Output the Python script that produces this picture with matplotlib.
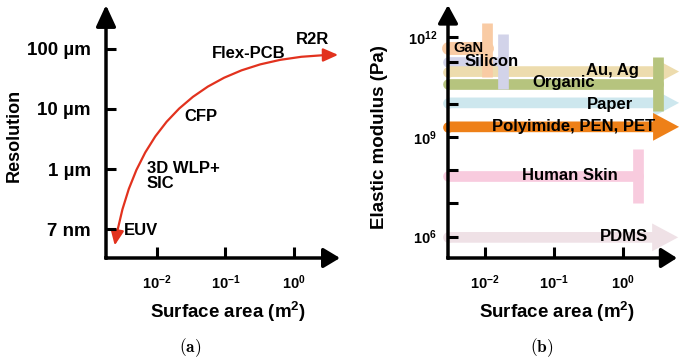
import numpy as np
import matplotlib
matplotlib.use("Agg")
import matplotlib.pyplot as plt
from matplotlib.patches import FancyArrowPatch
from matplotlib.ticker import NullLocator

plt.rcParams['font.family'] = ['Liberation Sans', 'DejaVu Sans']
plt.rcParams['font.weight'] = 'bold'
plt.rcParams['mathtext.fontset'] = 'custom'
plt.rcParams['mathtext.rm'] = 'Liberation Sans:bold'
plt.rcParams['mathtext.it'] = 'Liberation Sans:bold'
plt.rcParams['mathtext.bf'] = 'Liberation Sans:bold'
plt.rcParams['mathtext.default'] = 'rm'

# ---------------- data: panel (a) ----------------
res_levels = [0, 1, 2, 3]
res_labels = ['7 nm', '1 µm', '10 µm', '100 µm']
area_ticks = [1e-2, 1e-1, 1e0]
area_ticklabels = [r'$10^{-2}$', r'$10^{-1}$', r'$10^{0}$']
curve_start = (0.00244, -0.27)   # (area m^2, resolution level) EUV end
curve_end = (4.39, 2.90)         # R2R end
tech_names = ['EUV', '3D WLP+\nSIC', 'CFP', 'Flex-PCB', 'R2R']
tech_area = [0.00594, 0.00714, 0.0440, 0.217, 1.86]
tech_level = [-0.02, 0.88, 1.87, 2.93, 3.15]

# ---------------- data: panel (b) ----------------
materials = ['GaN', 'Silicon', 'Au, Ag', 'Organic', 'Paper',
             'Polyimide, PEN, PET', 'Human Skin', 'PDMS']
modulus_exp = [11.67, 11.26, 10.96, 10.60, 10.02, 9.30, 7.81, 5.98]   # log10(Pa)
max_area = [0.0107, 0.018, 6.5, 3.2, 6.5, 6.5, 1.65, 6.3]             # m^2
end_type = ['bar', 'bar', 'arrow', 'bar', 'arrow', 'arrow', 'bar', 'arrow']
bar_low_exp = [10.80, 10.44, None, 9.78, None, None, 7.00, None]
bar_high_exp = [12.42, 12.09, None, 11.40, None, None, 8.64, None]
mat_colors = ['#F9CBA4', '#D2D3E9', '#EDDCAE', '#B6C47E', '#CDE7EE',
              '#EE8018', '#F8CBDE', '#EFE1E6']
label_area = [0.00568, 0.0126, 0.705, 0.137, 0.649, 0.192, 0.168, 1.016]
label_exp = [11.67, 11.25, 10.98, 10.63, 9.96, 9.30, 7.83, 6.00]
label_size = [10.5, 12, 12, 12, 12, 12, 12, 12]
mod_ticks_exp = [12, 11.25, 10, 9, 8, 7, 6]
mod_ticklabels = [r'$10^{12}$', '', '', r'$10^{9}$', '', '', r'$10^{6}$']

W, H = 679, 363
fig = plt.figure(figsize=(W / 100, H / 100), dpi=100)


def axes_px(l, r, t, b):
    return fig.add_axes([l / W, 1 - b / H, (r - l) / W, (b - t) / H])


def style_axes(ax, xpad, ypad):
    for s in ax.spines.values():
        s.set_visible(False)
    ax.xaxis.set_minor_locator(NullLocator())
    ax.yaxis.set_minor_locator(NullLocator())
    ax.tick_params(axis='x', which='both', length=0, pad=xpad)
    ax.tick_params(axis='y', which='both', length=0, pad=ypad)


def draw_ticks(ax, xticks, yticks, xfac, ystep, ylog):
    """Inward tick marks drawn in data coordinates from the axis edges."""
    xl = ax.get_xlim()[0]
    yl = ax.get_ylim()[0]
    ytop = yl * ystep if ylog else yl + ystep
    for v in xticks:
        ax.plot([v, v], [yl, ytop], color='black', lw=2.2, solid_capstyle='butt',
                clip_on=False, zorder=9)
    for v in yticks:
        ax.plot([xl, xl * xfac], [v, v], color='black', lw=2.2, solid_capstyle='butt',
                clip_on=False, zorder=9)


def draw_axis_arrows(ax, yhead=11, xhead=9.5):
    for (p0, p1, hl) in [((0, 0), (0, 1), yhead), ((0, 0), (1, 0), xhead)]:
        a = FancyArrowPatch(p0, p1, transform=ax.transAxes,
                            arrowstyle=f'-|>,head_length={hl},head_width=6.0',
                            mutation_scale=1, lw=2.5, color='black',
                            shrinkA=0, shrinkB=0, clip_on=False, zorder=10)
        ax.add_patch(a)
    corner = FancyArrowPatch((0, 0), (0, 0.001), transform=ax.transAxes,
                             arrowstyle='-', lw=2.5, color='black', capstyle='projecting',
                             shrinkA=0, shrinkB=0, clip_on=False, zorder=10)
    ax.add_patch(corner)


# ================= panel (a) =================
axa = axes_px(106, 340, 5, 258)
axa.set_xscale('log')
axa.set_xlim(10 ** -2.74, 10 ** 0.67)
axa.set_ylim(-0.48, 3.73)
axa.set_xticks(area_ticks)
axa.set_xticklabels(area_ticklabels, fontsize=10.5)
axa.set_yticks(res_levels)
axa.set_yticklabels(res_labels, fontsize=13.5)
style_axes(axa, 11, 11)
draw_ticks(axa, area_ticks, res_levels, 10 ** 0.15, 0.18, False)
draw_axis_arrows(axa, yhead=13, xhead=10)

curve = FancyArrowPatch(curve_start, curve_end, connectionstyle='arc3,rad=-0.42',
                        arrowstyle='<|-|>,head_length=9,head_width=4',
                        mutation_scale=1, lw=1.6, color='#E2321E',
                        shrinkA=0, shrinkB=0, clip_on=False, zorder=5)
axa.add_patch(curve)
for name, xa, yl in zip(tech_names, tech_area, tech_level):
    ha = 'left' if '\n' in name else 'center'
    axa.text(xa, yl, name, fontsize=12, fontweight='bold', ha=ha, va='center',
             linespacing=1.0, zorder=6)

fig.text(14 / W, 1 - 135 / H, 'Resolution', rotation=90, fontsize=13,
         fontweight='bold', ha='center', va='center')
fig.text(228 / W, 1 - 312 / H, r'Surface area (m$^{2}$)', fontsize=13.5,
         fontweight='bold', ha='center', va='center')
fig.text(190 / W, 1 - 348 / H, r'$\mathbf{(a)}$', fontsize=12.5, ha='center',
         va='center', math_fontfamily='cm')

# ================= panel (b) =================
axb = axes_px(448, 677, 5, 258)
axb.set_xscale('log')
axb.set_yscale('log')
axb.set_xlim(10 ** -2.536, 10 ** 0.783)
axb.set_ylim(10 ** 5.36, 10 ** 12.96)
mod_ticks = [10 ** e for e in mod_ticks_exp]
axb.set_xticks(area_ticks)
axb.set_xticklabels(area_ticklabels, fontsize=10.5)
axb.set_yticks(mod_ticks)
axb.set_yticklabels(mod_ticklabels, fontsize=10.5)
style_axes(axb, 11, 8)
draw_axis_arrows(axb, yhead=11, xhead=9.5)

x0 = 10 ** -2.536
band_w = 7.7
# horizontal bands
for name, ye, xm, et, c in zip(materials, modulus_exp, max_area, end_type, mat_colors):
    y = 10 ** ye
    if et == 'arrow':
        arr = FancyArrowPatch((x0, y), (xm, y),
                              arrowstyle=f'simple,head_length=18.7,head_width=20,tail_width={band_w}',
                              mutation_scale=1, lw=0, color=c, shrinkA=0, shrinkB=0,
                              clip_on=False, zorder=2)
        axb.add_patch(arr)
        axb.plot([x0], [y], 'o', ms=band_w, color=c, mew=0, clip_on=False, zorder=2)
    else:
        lw_h = 9.3 if name == 'GaN' else band_w
        axb.plot([x0, xm], [y, y], lw=lw_h, color=c, solid_capstyle='round',
                 clip_on=False, zorder=2)
# vertical end bars
for xm, et, lo, hi, c in zip(max_area, end_type, bar_low_exp, bar_high_exp, mat_colors):
    if et == 'bar':
        axb.plot([xm, xm], [10 ** lo, 10 ** hi], lw=band_w, color=c,
                 solid_capstyle='butt', clip_on=False, zorder=3)
draw_ticks(axb, area_ticks, mod_ticks, 10 ** 0.15, 10 ** 0.32, True)
for name, xa, ye, fs in zip(materials, label_area, label_exp, label_size):
    axb.text(xa, 10 ** ye, name, fontsize=fs, fontweight='bold', ha='center',
             va='center', zorder=11)

fig.text(380 / W, 1 - 137 / H, 'Elastic modulus (Pa)', rotation=90, fontsize=13.5,
         fontweight='bold', ha='center', va='center')
fig.text(557 / W, 1 - 312 / H, r'Surface area (m$^{2}$)', fontsize=13.5,
         fontweight='bold', ha='center', va='center')
fig.text(542 / W, 1 - 348 / H, r'$\mathbf{(b)}$', fontsize=12.5, ha='center',
         va='center', math_fontfamily='cm')

fig.savefig('out.png', dpi=100)
